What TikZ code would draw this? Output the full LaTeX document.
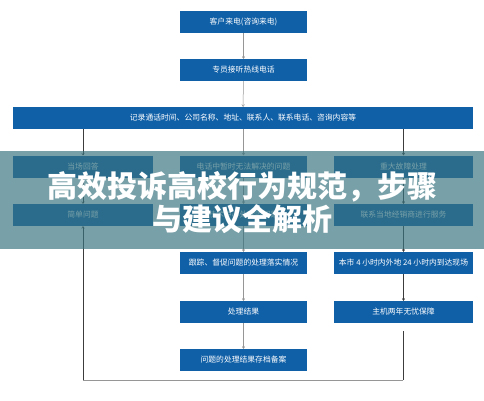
\documentclass[tikz,border=0pt]{standalone}
\usepackage{fontspec}
\newfontfamily\cjk{Noto Sans CJK SC}
\usetikzlibrary{arrows.meta}
\definecolor{boxblue}{RGB}{16,96,168}
\definecolor{band}{RGB}{56,115,127}
\definecolor{darkline}{RGB}{60,60,60}
\definecolor{lightline}{RGB}{150,150,150}
\begin{document}
\begin{tikzpicture}[x=1pt,y=-1pt,
  box/.style={fill=boxblue, text=white, font=\cjk\fontsize{7.8}{9}\selectfont, inner sep=0pt, minimum height=22pt},
  wl/.style={box, minimum width=140pt},
  wm/.style={box, minimum width=127pt},
  wr/.style={box, minimum width=139pt},
  arrd/.style={draw=darkline, line width=0.5pt, -{To[length=2.5pt,width=3pt]}},
  arrl/.style={draw=lightline, line width=0.5pt, -{To[length=2.5pt,width=3pt]}}]
\useasboundingbox (0,0) rectangle (484,400);
\fill[white] (0,0) rectangle (484,400);
% top
\node[wm] (b1) at (243.5,22) {客户来电(咨询来电)};
\node[wm] (b2) at (243.5,70) {专员接听热线电话};
\node[box, minimum width=460pt] (b3) at (243,118) {记录通话时间、公司名称、地址、联系人、联系电话、咨询内容等};
% row 1
\node[wl] (l1) at (83,166.5) {当场回答};
\node[wm] (m1) at (243.5,166.5) {电话中暂时无法解决的问题};
\node[wr] (r1) at (403.5,166.5) {重大故障处理};
% row 2
\node[wl] (l2) at (83,215) {简单问题};
\node[wm] (m2) at (243.5,215) {技术中心处理的问题};
\node[wr] (r2) at (403.5,215) {联系当地经销商进行服务};
% row 3
\node[wm] (m3) at (243.5,263) {跟踪、督促问题的处理落实情况};
\node[wr] (r3) at (403.5,263) {本市 4 小时内外地 24 小时内到达现场};
% row 4
\node[wm] (m4) at (243.5,312) {处理结果};
\node[wr] (r4) at (403.5,312) {主机两年无忧保障};
% archive
\node[wm] (m5) at (243.5,360) {问题的处理结果存档备案};
% connectors
\draw[arrl] (b1) -- (b2);
\draw[arrl] (b2) -- (b3);
\draw[arrd] (b3.south -| l1.north) -- (l1.north);
\draw[arrl] (b3.south -| m1.north) -- (m1.north);
\draw[arrd] (b3.south -| r1.north) -- (r1.north);
\draw[arrd] (l1) -- (l2);
\draw[arrl] (m1) -- (m2);
\draw[arrd] (r1.south) -- (r1.south |- r2.north);
\draw[arrl] (m2) -- (m3);
\draw[arrd] (r2.south) -- (r2.south |- r3.north);
\draw[arrl] (m3) -- (m4);
\draw[arrd] (r3.south) -- (r3.south |- r4.north);
\draw[arrl] (m4) -- (m5);
\coordinate (rs) at (403,331);
\coordinate (rb) at (403,380);
\coordinate (lb) at (83,380);
\draw[draw=darkline, line width=0.5pt] (rs) -- (rb);
\draw[draw=lightline, line width=0.6pt] (rb) -- (lb);
\draw[arrd] (lb) -- (l2.south);
% overlay band
\fill[band, opacity=0.68] (0,151) rectangle (484,249);
\node[font=\cjk\bfseries\fontsize{30}{33}\selectfont, text=white, align=center] (title) at (242,202.5) {高效投诉高校行为规范，步骤\\与建议全解析};
\end{tikzpicture}
\end{document}
